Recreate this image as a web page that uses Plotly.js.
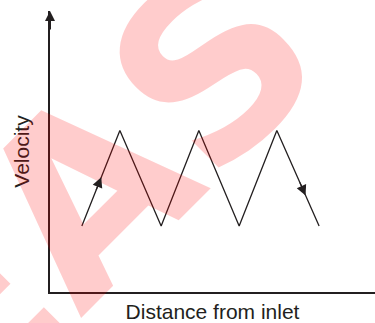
<!DOCTYPE html>
<html>
<head>
<meta charset="utf-8">
<script src="https://cdn.plot.ly/plotly-3.0.1.min.js"></script>
<style>html,body{margin:0;padding:0;background:#fff;}#chart{width:375px;height:323px;}</style>
</head>
<body>
<div id="chart"></div>
<script>
// Data
const distance = [0.98, 2.15, 3.42, 4.58, 5.82, 6.98, 8.28];
const velocity = [2.35, 5.75, 2.35, 5.75, 2.35, 5.75, 2.35];
// direction arrows on the line: segment index and fraction along it
const arrowSegments = [0, 5];
const arrowFractions = [0.51, 0.68];
const xTitle = 'Distance from inlet';
const yTitle = 'Velocity';
const watermark = 'EAS';

const ink = '#231f20';
const font = 'Liberation Sans, Arial, sans-serif';

function pointAt(seg, f) {
  return [distance[seg] + f * (distance[seg + 1] - distance[seg]),
          velocity[seg] + f * (velocity[seg + 1] - velocity[seg])];
}

const annotations = [];
// watermark
annotations.push({
  xref: 'paper', yref: 'paper', x: 0.125, y: 0.36,
  xanchor: 'center', yanchor: 'middle', showarrow: false,
  text: watermark, textangle: -45,
  font: {family: 'DejaVu Sans', size: 240, weight: 700, color: 'rgba(255,0,0,0.2)'}
});
// direction arrows
arrowSegments.forEach((seg, i) => {
  const tip = pointAt(seg, arrowFractions[i]);
  const tail = pointAt(seg, arrowFractions[i] - 0.15);
  annotations.push({
    xref: 'x', yref: 'y', axref: 'x', ayref: 'y',
    x: tip[0], y: tip[1], ax: tail[0], ay: tail[1],
    text: '', showarrow: true, arrowhead: 2, arrowsize: 1.7, arrowwidth: 1.2,
    arrowcolor: ink, standoff: 0, startstandoff: 0
  });
});
// axis arrows
annotations.push({
  xref: 'paper', yref: 'paper', x: 0, y: 1.0, ax: 0, ay: 20,
  text: '', showarrow: true, arrowhead: 2, arrowsize: 1, arrowwidth: 2,
  arrowcolor: ink, standoff: 0
});
annotations.push({
  xref: 'paper', yref: 'paper', x: 1.04, y: 0, ax: -14, ay: 0,
  text: '', showarrow: true, arrowhead: 2, arrowsize: 1, arrowwidth: 2,
  arrowcolor: ink, standoff: 0
});

const trace = {
  x: distance, y: velocity, type: 'scatter', mode: 'lines',
  line: {color: ink, width: 1.3}, hoverinfo: 'skip', cliponaxis: false
};

const layout = {
  width: 375, height: 323,
  margin: {l: 50, r: 0, t: 11, b: 31},
  paper_bgcolor: '#ffffff', plot_bgcolor: 'rgba(0,0,0,0)',
  showlegend: false,
  font: {family: font, color: ink},
  xaxis: {
    range: [0, 10], showgrid: false, zeroline: false, showticklabels: false,
    ticks: '', showline: true, linewidth: 2, linecolor: ink, fixedrange: true,
    title: {text: xTitle, font: {size: 21, color: ink, family: font}, standoff: 13}
  },
  yaxis: {
    range: [0, 10], showgrid: false, zeroline: false, showticklabels: false,
    ticks: '', showline: true, linewidth: 2, linecolor: ink, fixedrange: true,
    title: {text: yTitle, font: {size: 21, color: ink, family: font}, standoff: 13}
  },
  annotations: annotations
};

Plotly.newPlot('chart', [trace], layout, {displayModeBar: false, staticPlot: true});
</script>
</body>
</html>
